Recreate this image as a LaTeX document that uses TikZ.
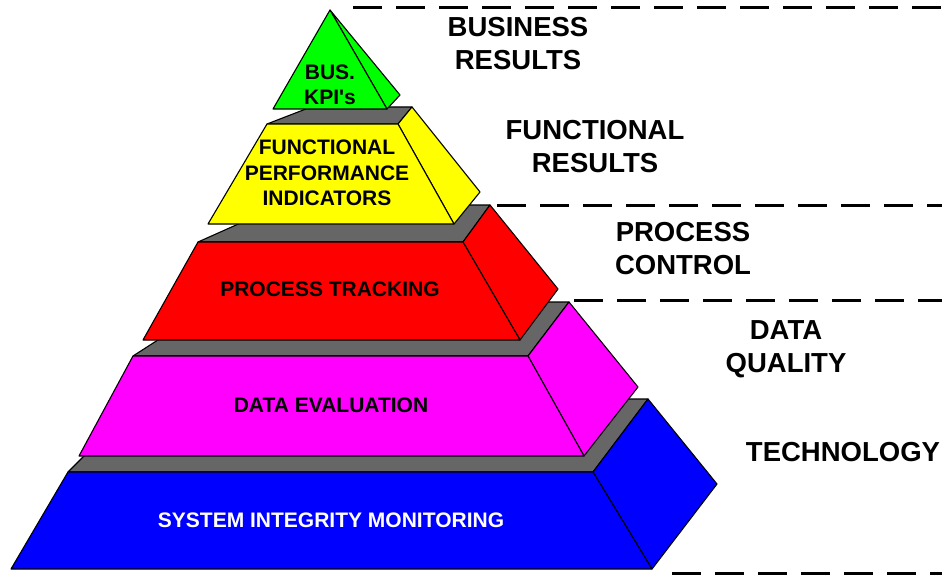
\documentclass[tikz,border=0pt]{standalone}
\usepackage{fontspec}
\setmainfont{Liberation Sans}[Ligatures=TeXOff]
\usepackage{tikz}

\definecolor{topgrey}{RGB}{102,102,102}
\definecolor{kpigreen}{RGB}{0,255,0}
\definecolor{fpiyellow}{RGB}{255,255,0}
\definecolor{procred}{RGB}{255,0,0}
\definecolor{datamag}{RGB}{255,0,255}
\definecolor{sysblue}{RGB}{0,0,255}

\begin{document}
\begin{tikzpicture}[x=1pt,y=-1pt]
        \tikzstyle{face}=[draw=black,line width=1.1pt,line join=round]
        \tikzstyle{blocktext}=[inner sep=0pt,align=center,font=\fontsize{21}{25.5}\selectfont\bfseries]
        \tikzstyle{sidetext}=[inner sep=0pt,align=center,font=\fontsize{27.5}{33}\selectfont\bfseries]
        \tikzstyle{divider}=[line width=3pt,dash pattern=on 29pt off 14pt]

        \useasboundingbox (0,0) rectangle (942,575);

        % technology block
        \coordinate (sa) at (68,472);
        \coordinate (sb) at (593,472);
        \coordinate (sc) at (652,569);
        \coordinate (sd) at (11,569);
        \coordinate (se) at (648,399);
        \coordinate (sf) at (717,484);
        \coordinate (sg) at (141,399);
        \filldraw[face,fill=topgrey] (sa) -- (sb) -- (se) -- (sg) -- cycle;
        \filldraw[face,fill=sysblue] (sb) -- (se) -- (sf) -- (sc) -- cycle;
        \filldraw[face,fill=sysblue] (sa) -- (sb) -- (sc) -- (sd) -- cycle;

        % data block
        \coordinate (da) at (133,356);
        \coordinate (db) at (528,356);
        \coordinate (dc) at (584,456);
        \coordinate (dd) at (79,456);
        \coordinate (de) at (569,302);
        \coordinate (df) at (638,387);
        \coordinate (dg) at (217,302);
        \filldraw[face,fill=topgrey] (da) -- (db) -- (de) -- (dg) -- cycle;
        \filldraw[face,fill=datamag] (db) -- (de) -- (df) -- (dc) -- cycle;
        \filldraw[face,fill=datamag] (da) -- (db) -- (dc) -- (dd) -- cycle;

        % process block
        \coordinate (pa) at (198,242);
        \coordinate (pb) at (463,242);
        \coordinate (pc) at (520,340);
        \coordinate (pd) at (143,340);
        \coordinate (pe) at (490,205);
        \coordinate (pf) at (558,289);
        \coordinate (pg) at (281,205);
        \filldraw[face,fill=topgrey] (pa) -- (pb) -- (pe) -- (pg) -- cycle;
        \filldraw[face,fill=procred] (pb) -- (pe) -- (pf) -- (pc) -- cycle;
        \filldraw[face,fill=procred] (pa) -- (pb) -- (pc) -- (pd) -- cycle;

        % functional block
        \coordinate (fa) at (267,124);
        \coordinate (fb) at (398,124);
        \coordinate (fc) at (454,224);
        \coordinate (fd) at (208,224);
        \coordinate (fe) at (412,107);
        \coordinate (ff) at (480,192);
        \coordinate (fg) at (311,107);
        \filldraw[face,fill=topgrey] (fa) -- (fb) -- (fe) -- (fg) -- cycle;
        \filldraw[face,fill=fpiyellow] (fb) -- (fe) -- (ff) -- (fc) -- cycle;
        \filldraw[face,fill=fpiyellow] (fa) -- (fb) -- (fc) -- (fd) -- cycle;

        % kpi tip
        \coordinate (ka) at (330,10);
        \coordinate (kb) at (273,109);
        \coordinate (kc) at (387,109);
        \coordinate (kd) at (400,95);
        \filldraw[face,fill=kpigreen] (ka) -- (kd) -- (kc) -- cycle;
        \filldraw[face,fill=kpigreen] (ka) -- (kc) -- (kb) -- cycle;

        \node[blocktext,text=white] (sim) at (331,520) {SYSTEM INTEGRITY MONITORING};
        \node[blocktext] (dev) at (331,405) {DATA EVALUATION};
        \node[blocktext] (ptr) at (330,289) {PROCESS TRACKING};
        \node[blocktext] (fpi) at (327,173) {FUNCTIONAL\\PERFORMANCE\\INDICATORS};
        \node[blocktext] (kpi) at (330,85) {BUS.\\KPI's};

        % levels on the right
        \coordinate (l1) at (353,8);
        \coordinate (r1) at (942,8);
        \coordinate (l2) at (497,205);
        \coordinate (r2) at (942,205);
        \coordinate (l3) at (574,300);
        \coordinate (r3) at (942,300);
        \coordinate (l4) at (672,573);
        \coordinate (r4) at (942,573);
        \draw[divider] (l1) -- (r1)
            (l2) -- (r2)
            (l3) -- (r3)
            (l4) -- (r4)
            ;

        \node[sidetext] (bres) at (518,44) {BUSINESS\\RESULTS};
        \node[sidetext] (fres) at (595,147) {FUNCTIONAL\\RESULTS};
        \node[sidetext] (pctl) at (683,249) {PROCESS\\CONTROL};
        \node[sidetext] (dq) at (786,349) {DATA\\QUALITY};
        \node[sidetext] (tech) at (843,452) {TECHNOLOGY};
\end{tikzpicture}
\end{document}
